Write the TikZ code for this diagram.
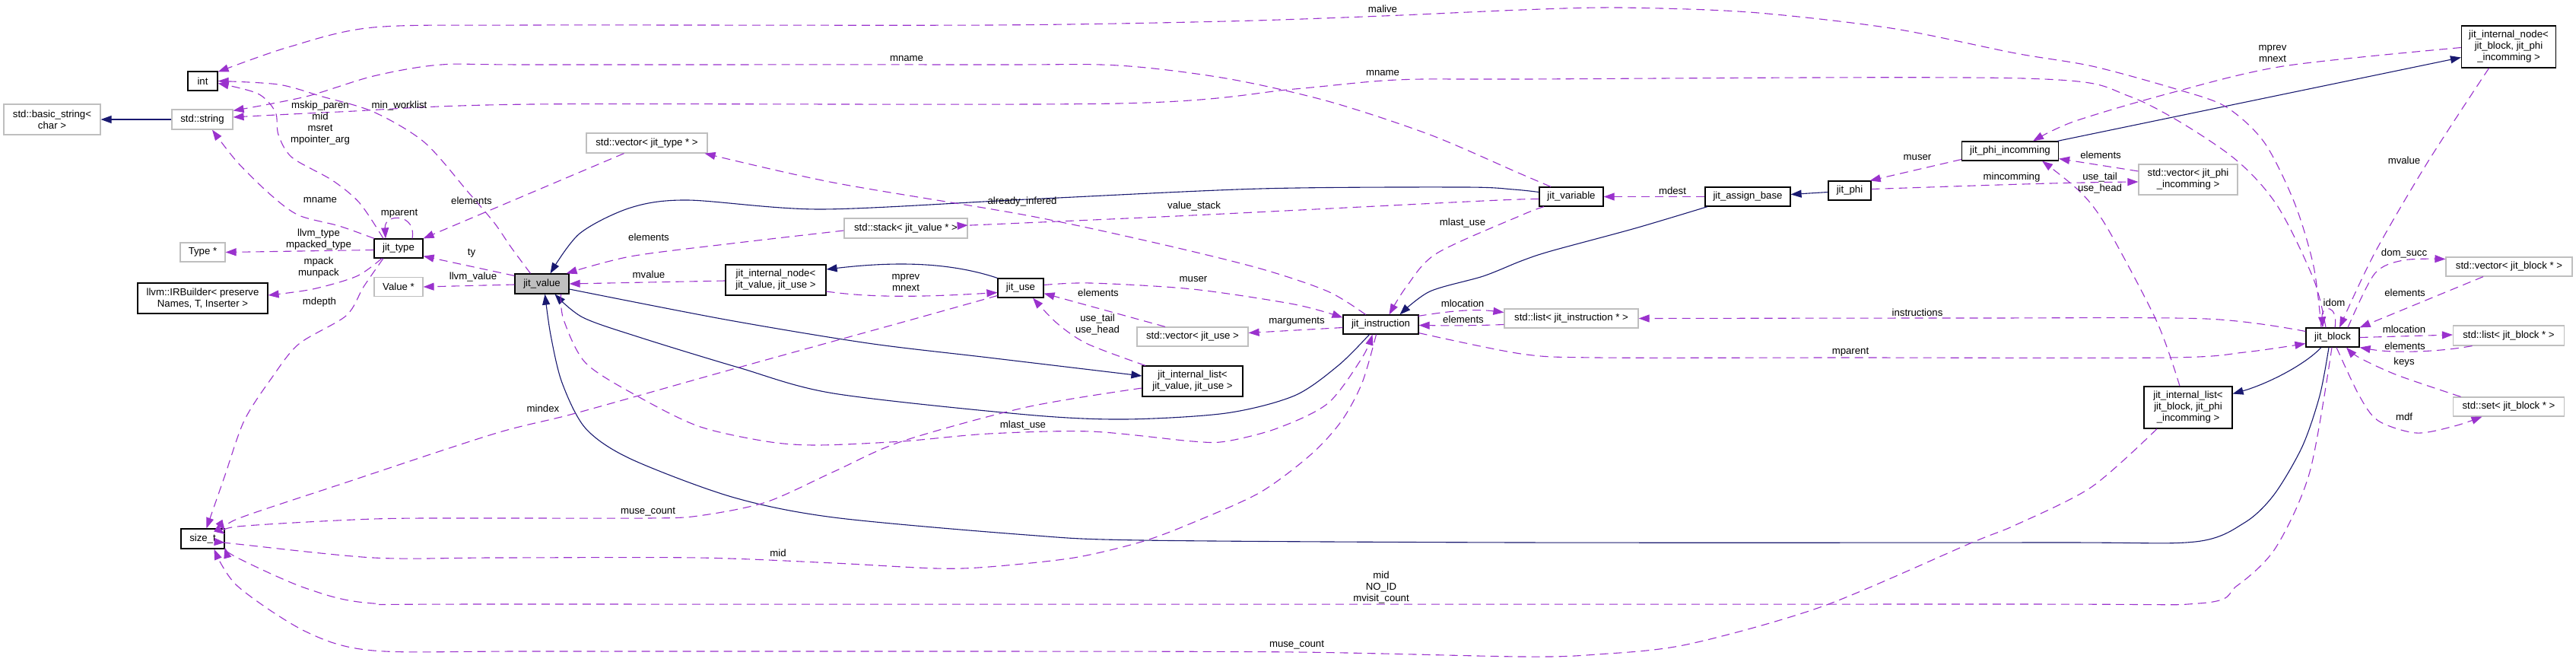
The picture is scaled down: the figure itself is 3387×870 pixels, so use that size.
\documentclass[tikz,border=0pt]{standalone}
\usepackage{fontspec}
\setmainfont{Liberation Sans}
\usetikzlibrary{arrows.meta}
\definecolor{usecol}{HTML}{9A32CD}
\definecolor{inhcol}{HTML}{191970}
\definecolor{grayb}{HTML}{BFBFBF}
\begin{document}
\begin{tikzpicture}[x=1pt,y=-1pt,font={\fontsize{13.2pt}{15pt}\selectfont},
  box/.style={draw=black,line width=1.2pt,rectangle,inner sep=0pt,align=center,minimum height=25pt},
  ext/.style={box,draw=grayb},
  lbl/.style={inner sep=0pt,align=center},
  use/.style={draw=usecol,line width=1.1pt,dash pattern=on 11pt off 7pt,-{Triangle[length=14pt,width=10pt]}},
  inh/.style={draw=inhcol,line width=1.1pt,-{Triangle[length=14pt,width=10pt]}}]
\fill[white] (0,0) rectangle (3387,870);
\useasboundingbox (0,0) rectangle (3387,870);
% nodes
\node[box,minimum width=39pt] (int) at (266.5,106.5) {int};
\node[ext,minimum width=127pt,minimum height=40pt] (bstr) at (68.5,157) {std::basic\_string<\\char >};
\node[ext,minimum width=80pt,minimum height=26pt] (str) at (266,157) {std::string};
\node[ext,minimum width=59pt] (typ) at (266.5,331.5) {Type *};
\node[box,minimum width=171pt,minimum height=40pt] (irb) at (266.5,392) {llvm::IRBuilder< preserve\\Names, T, Inserter >};
\node[box,minimum width=64pt] (jtype) at (524,326.5) {jit\_type};
\node[ext,minimum width=64pt] (valp) at (524,377) {Value *};
\node[box,minimum width=57pt,minimum height=26pt] (sizet) at (266.5,708) {size\_t};
\node[box,fill=grayb,minimum width=71pt,minimum height=26pt] (jval) at (712.5,373) {jit\_value};
\node[ext,minimum width=159pt,minimum height=26pt] (vtype) at (850.5,188) {std::vector< jit\_type * >};
\node[ext,minimum width=162pt,minimum height=26pt] (stack) at (1191,300) {std::stack< jit\_value * >};
\node[box,minimum width=132pt,minimum height=40pt] (inodev) at (1020,368) {jit\_internal\_node<\\jit\_value, jit\_use >};
\node[box,minimum width=60pt] (juse) at (1342,378.5) {jit\_use};
\node[ext,minimum width=146pt] (vuse) at (1568,442.5) {std::vector< jit\_use >};
\node[box,minimum width=132pt,minimum height=40pt] (ilistv) at (1568,501) {jit\_internal\_list<\\jit\_value, jit\_use >};
\node[box,minimum width=99pt] (jinstr) at (1815.5,426.5) {jit\_instruction};
\node[box,minimum width=84pt] (jvar) at (2066,258.5) {jit\_variable};
\node[box,minimum width=112pt] (jassign) at (2298,258.5) {jit\_assign\_base};
\node[box,minimum width=56pt] (jphi) at (2432,250.5) {jit\_phi};
\node[box,minimum width=127pt] (jphiinc) at (2643,198.5) {jit\_phi\_incomming};
\node[ext,minimum width=130pt,minimum height=40pt] (vphi) at (2877,236) {std::vector< jit\_phi\\\_incomming >};
\node[box,minimum width=124pt,minimum height=55pt] (inodeb) at (3298.5,61.5) {jit\_internal\_node<\\jit\_block, jit\_phi\\\_incomming >};
\node[ext,minimum width=176pt] (linstr) at (2066,418.5) {std::list< jit\_instruction * >};
\node[box,minimum width=70pt] (jblock) at (3067,443.5) {jit\_block};
\node[ext,minimum width=166pt] (vblock) at (3299,350.5) {std::vector< jit\_block * >};
\node[ext,minimum width=146pt,minimum height=26pt] (lblock) at (3298.5,441) {std::list< jit\_block * >};
\node[ext,minimum width=146pt] (sblock) at (3298.5,534.5) {std::set< jit\_block * >};
\node[box,minimum width=116pt,minimum height=55pt] (ilistb) at (2877,535.5) {jit\_internal\_list<\\jit\_block, jit\_phi\\\_incomming >};
% inheritance edges
\draw[inh] (str.west) -- (bstr.east);
\draw[inh] plot[smooth] coordinates {([yshift=6pt]jvar.west) (1990,249) (1925,246) (1657,248) (1350,262) (1079,275) (904,263) (829,273) (762,307) ([xshift=11pt]jval.north)};
\draw[inh] plot[smooth] coordinates {([xshift=-15pt]jinstr.south) (1760,480) (1702,520) (1612,543) (1479,551) (1350,545) (1096,517) (971,483) (840,443) (766,417) ([xshift=17pt]jval.south)};
\draw[inh] plot[smooth] coordinates {([xshift=-5pt]jblock.south) (3050,520) (3027,587) (2990,650) (2951,687) (2886,712) (2700,713) (2000,713) (1501,710) (1350,703) (1096,680) (962,653) (829,603) (770,563) (739,503) (724,440) ([xshift=4pt]jval.south)};
\draw[inh] plot[smooth] coordinates {([yshift=-7pt]jval.east) (954,420) (1141,451) (1300,470) ([yshift=7pt]ilistv.west)};
\draw[inh] (juse.north west) .. controls (1250,345) and (1180,343) .. ([yshift=14pt]inodev.east);
\draw[inh] ([xshift=-2pt]jphiinc.north east) -- ([yshift=-14pt]inodeb.west);
\draw[inh] ([yshift=-2pt]jphi.west) -- ([yshift=3pt]jassign.east);
\draw[inh] plot[smooth] coordinates {([xshift=-53pt]jassign.south) (2150,300) (2039,330) (2000,343) (1950,363) (1880,383) ([xshift=25pt]jinstr.north)};
\draw[inh] ([xshift=-15pt]jblock.south) .. controls (3030,480) and (2980,505) .. ([yshift=18pt]ilistb.east);
% usage edges
\draw[use] plot[smooth] coordinates {([xshift=-15pt]jblock.north) (3042,350) (3017,267) (2977,187) (2926,140) (2861,117) (2751,87) (2650,70) (2486,37) (2300,16) (2128,10) (2000,13) (1818,21) (1612,28) (1300,33) (700,33) (491,36) (379,62) ([yshift=12pt]int.east)};
\draw[use] plot[smooth] coordinates {([xshift=-15pt]jval.north) (672,325) (650,293) (616,253) (558,187) (491,147) (424,127) (366,111) (int.east)};
\draw[use] plot[smooth] coordinates {([xshift=-20pt]jtype.north) (473,267) (437,237) (384,207) (366,177) (362,147) (339,123) ([yshift=-3pt]int.east)};
\draw[use] plot[smooth] coordinates {([xshift=-32pt]jtype.north) (446,297) (393,283) (357,257) (312,213) ([xshift=13pt]str.south)};
\draw[use] ([xshift=18pt]jtype.north) .. controls (548,280) and (505,280) .. ([xshift=-17pt]jtype.north);
\draw[use] ([yshift=-2pt]jtype.west) -- (typ.east);
\draw[use] plot[smooth] coordinates {([xshift=-22pt]jtype.south) (469,363) (411,380) ([yshift=4pt]irb.east)};
\draw[use] plot[smooth] coordinates {([xshift=-20pt]jtype.south) (478,377) (455,415) (393,452) (357,497) (321,553) (295,627) ([xshift=5pt]sizet.north)};
\draw[use] ([xshift=-30pt]vtype.south) -- (jtype.north east);
\draw[use] ([yshift=-3pt]jval.north west) -- ([yshift=3pt]jtype.south east);
\draw[use] ([yshift=-1pt]jval.west) -- (valp.east);
\draw[use] plot[smooth] coordinates {([yshift=-3pt]stack.west) (962,320) (829,337) ([xshift=-4pt]jval.north east)};
\draw[use] ([yshift=-1pt]inodev.west) -- (jval.east);
\draw[use] ([yshift=-15pt]inodev.east) .. controls (1150,392) and (1220,390) .. ([yshift=-6pt]juse.west);
\draw[use] plot[smooth] coordinates {([yshift=4pt]juse.east) (1434,372) (1568,380) (1702,400) ([yshift=-4pt]jinstr.north west)};
\draw[use] ([xshift=-36pt]vuse.north) -- ([yshift=6pt]juse.south east);
\draw[use] plot[smooth] coordinates {([xshift=-62pt]ilistv.north) (1430,452) (1390,425) ([xshift=16pt]juse.south)};
\draw[use] ([yshift=-4pt]jinstr.west) -- ([yshift=5pt]vuse.east);
\draw[use] plot[smooth] coordinates {([xshift=-20pt]jinstr.north) (1746,383) (1657,353) (1523,320) (1350,283) (1096,240) ([xshift=-4pt]vtype.south east)};
\draw[use] plot[smooth] coordinates {([yshift=-3pt]jvar.west) (1950,264) (1568,283) (1300,295) ([yshift=4pt]stack.east)};
\draw[use] plot[smooth] coordinates {([xshift=-27pt]jvar.north) (1996,227) (1880,177) (1746,133) (1612,103) (1470,86) (1300,85) (700,85) (580,85) (491,100) (402,127) ([yshift=-2pt]str.north east)};
\draw[use] plot[smooth] coordinates {([xshift=-9pt]jblock.north) (3042,367) (2992,267) (2927,200) (2801,127) (2660,103) (2000,104) (1836,105) (1702,117) (1470,136) (700,137) (446,147) ([yshift=3pt]str.east)};
\draw[use] ([xshift=3pt]jblock.north) .. controls (3075,400) and (3052,400) .. ([xshift=-13pt]jblock.north);
\draw[use] plot[smooth] coordinates {([xshift=-26pt]inodeb.south) (3192,213) (3122,333) ([xshift=9pt]jblock.north)};
\draw[use] plot[smooth] coordinates {([yshift=-1pt]inodeb.west) (3002,87) (2851,123) (2726,160) ([xshift=30pt]jphiinc.north)};
\draw[use] ([yshift=11pt]vphi.west) -- ([yshift=3pt]jphiinc.south east);
\draw[use] ([yshift=2pt]jphi.east) .. controls (2600,244) and (2700,240) .. ([yshift=-3pt]vphi.west);
\draw[use] ([yshift=-11pt]jphiinc.west) -- ([xshift=-2pt]jphi.north east);
\draw[use] plot[smooth] coordinates {([xshift=-11pt]ilistb.north) (2836,423) (2771,300) (2736,253) ([xshift=42pt]jphiinc.south)};
\draw[use] (jassign.west) -- (jvar.east);
\draw[use] plot[smooth] coordinates {([xshift=-36pt]jvar.south) (2000,283) (1889,333) (1849,377) ([xshift=11pt]jinstr.north)};
\draw[use] ([xshift=-1pt,yshift=-2pt]jinstr.north east) .. controls (1910,408) and (1940,406) .. ([yshift=8pt]linstr.west);
\draw[use] ([yshift=-8pt]linstr.west) .. controls (1940,428) and (1910,428) .. ([yshift=-1pt]jinstr.east);
\draw[use] plot[smooth] coordinates {([yshift=8pt]jblock.west) (2901,419) (2600,418) (linstr.east)};
\draw[use] plot[smooth] coordinates {([yshift=2pt]jinstr.south east) (2000,465) (2100,470) (2433,470) (2851,470) (2951,463) ([yshift=-8pt]jblock.west)};
\draw[use] plot[smooth] coordinates {([xshift=20pt]jblock.north) (3122,360) (3160,342) ([yshift=10pt]vblock.west)};
\draw[use] ([xshift=-34pt]vblock.south) -- (jblock.north east);
\draw[use] (jblock.east) -- ([yshift=1pt]lblock.west);
\draw[use] ([xshift=-48pt]lblock.south) .. controls (3210,462) and (3150,465) .. (jblock.south east);
\draw[use] plot[smooth] coordinates {([xshift=-63pt]sblock.north) (3152,493) (3102,470) ([xshift=18pt]jblock.south)};
\draw[use] plot[smooth] coordinates {([xshift=5pt]jblock.south) (3102,520) (3127,553) (3177,569) (3227,560) ([xshift=-35pt]sblock.south)};
\draw[use] plot[smooth] coordinates {([xshift=25pt]jval.south) (741,420) (770,477) (837,520) (918,560) (1007,580) (1074,585) (1186,580) (1300,570) (1434,567) (1568,580) (1612,580) (1679,563) (1746,530) (1791,470) ([xshift=-11pt]jinstr.south)};
\draw[use] plot[smooth] coordinates {([xshift=-6pt]jinstr.south) (1791,503) (1764,553) (1724,597) (1657,647) (1568,687) (1501,712) (1412,733) (1300,745) (1230,747) (1096,740) (918,733) (650,733) (491,733) (312,715) ([yshift=-5pt]sizet.east)};
\draw[use] plot[smooth] coordinates {([yshift=-9pt]ilistv.west) (1350,535) (1186,580) (1096,620) (1007,660) (918,678) (852,681) (650,681) (491,682) (312,692) ([yshift=6pt]sizet.east)};
\draw[use] plot[smooth] coordinates {([yshift=-10pt]juse.west) (1199,420) (971,483) (757,543) (650,570) (446,637) (312,682) ([yshift=-3pt]sizet.north east)};
\draw[use] plot[smooth] coordinates {([xshift=-1pt]jblock.south) (3037,620) (2992,720) (2941,770) (2891,793) (2600,794) (700,794) (491,793) (402,773) (312,733) ([yshift=2pt]sizet.south east)};
\draw[use] plot[smooth] coordinates {([xshift=-41pt]ilistb.south) (2750,640) (2650,690) (2593,713) (2396,797) (2218,847) (2100,860) (2000,863) (1705,857) (1300,856) (700,856) (491,855) (402,830) (312,770) ([xshift=15pt]sizet.south)};
% labels
\node[lbl] (L01) at (1818,12) {malive};
\node[lbl] (L02) at (1192,77) {mname};
\node[lbl] (L03) at (1818,96) {mname};
\node[lbl] (L04) at (421,162) {mskip\_paren\\mid\\msret\\mpointer\_arg};
\node[lbl] (L05) at (525,139) {min\_worklist};
\node[lbl] (L06) at (421,263) {mname};
\node[lbl] (L07) at (620,264) {elements};
\node[lbl] (L08) at (525,281) {mparent};
\node[lbl] (L09) at (419,315) {llvm\_type\\mpacked\_type};
\node[lbl] (L10) at (620,333) {ty};
\node[lbl] (L11) at (419,351.5) {mpack\\munpack};
\node[lbl] (L12) at (622,364) {llvm\_value};
\node[lbl] (L13) at (420,397) {mdepth};
\node[lbl] (L14) at (853,312) {elements};
\node[lbl] (L15) at (853,361) {mvalue};
\node[lbl] (L16) at (1344,265) {already\_infered};
\node[lbl] (L17) at (1570,271) {value\_stack};
\node[lbl] (L18) at (1923,293) {mlast\_use};
\node[lbl] (L19) at (2199,251) {mdest};
\node[lbl] (L20) at (2521,207) {muser};
\node[lbl] (L21) at (2645,233) {mincomming};
\node[lbl] (L22) at (2988,71) {mprev\\mnext};
\node[lbl] (L23) at (2762,204) {elements};
\node[lbl] (L24) at (2761,241) {use\_tail\\use\_head};
\node[lbl] (L25) at (3161,211) {mvalue};
\node[lbl] (L26) at (3161,333) {dom\_succ};
\node[lbl] (L27) at (3162,385) {elements};
\node[lbl] (L28) at (3069,398) {idom};
\node[lbl] (L29) at (3161,433) {mlocation};
\node[lbl] (L30) at (3162,455) {elements};
\node[lbl] (L31) at (3161,476) {keys};
\node[lbl] (L32) at (3161,548) {mdf};
\node[lbl] (L33) at (1569,367) {muser};
\node[lbl] (L34) at (1191,371.5) {mprev\\mnext};
\node[lbl] (L35) at (1444,385) {elements};
\node[lbl] (L36) at (1443,426.5) {use\_tail\\use\_head};
\node[lbl] (L37) at (1705,423) {marguments};
\node[lbl] (L38) at (1923,399) {mlocation};
\node[lbl] (L39) at (1924,420) {elements};
\node[lbl] (L40) at (2521,411) {instructions};
\node[lbl] (L41) at (2433,463) {mparent};
\node[lbl] (L42) at (714,537) {mindex};
\node[lbl] (L43) at (1345,559) {mlast\_use};
\node[lbl] (L44) at (852,673) {muse\_count};
\node[lbl] (L45) at (1023,727) {mid};
\node[lbl] (L46) at (1816,772) {mid\\NO\_ID\\mvisit\_count};
\node[lbl] (L47) at (1705,848) {muse\_count};
\end{tikzpicture}
\end{document}
